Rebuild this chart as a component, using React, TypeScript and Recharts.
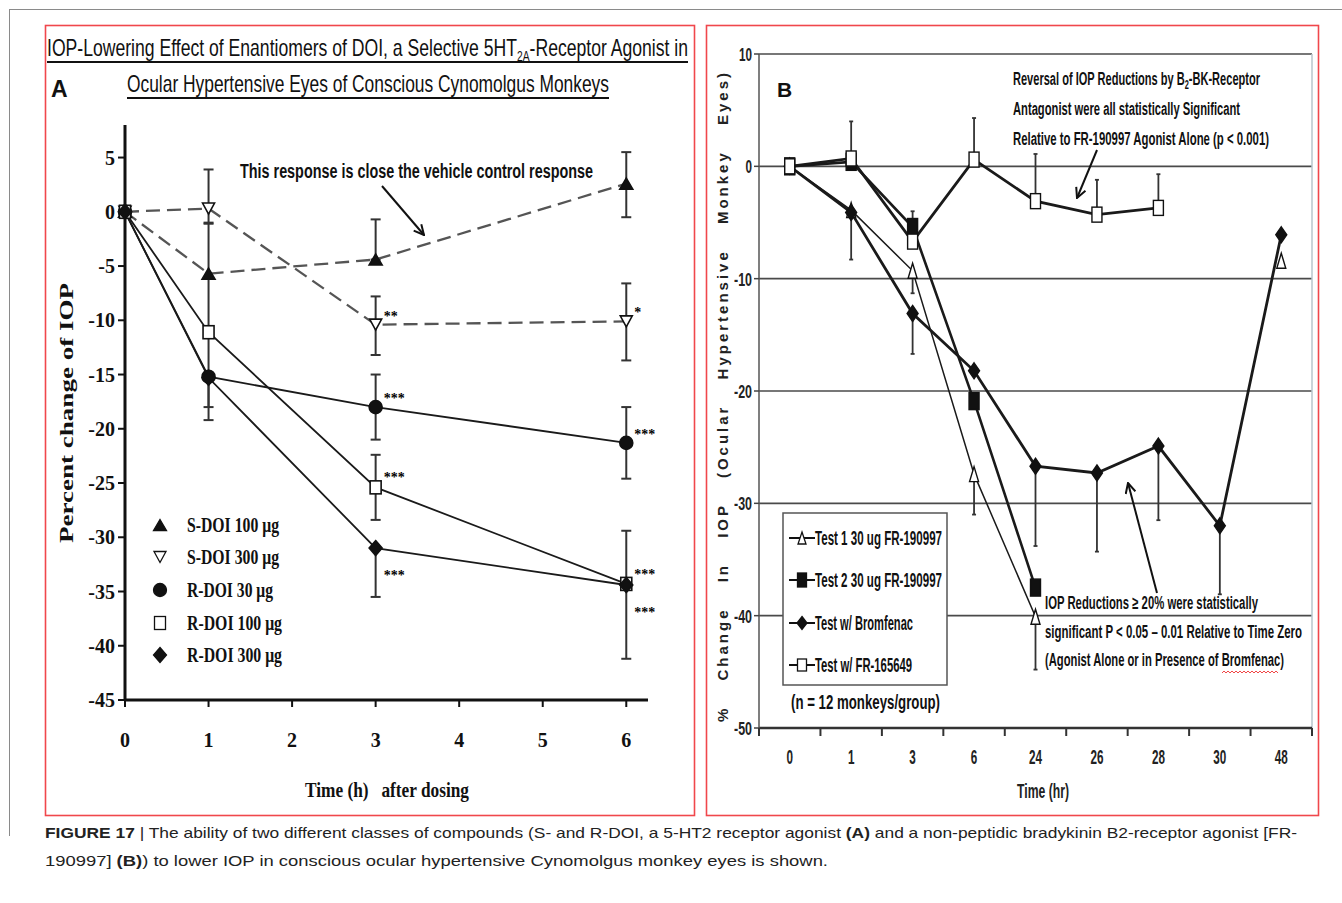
import React from 'react';
import { LineChart, Line, XAxis, YAxis, CartesianGrid, ErrorBar, LabelList, ReferenceLine } from 'recharts';

const SERIF = "'Liberation Serif', 'Times New Roman', serif";
const SANS = "'Liberation Sans', Arial, sans-serif";
const NARROW = "'Liberation Sans Narrow', 'Liberation Sans', Arial, sans-serif";

// ---------- panel A : S-/R-DOI ----------
const hoursA = [0, 1, 3, 6];
const sDoi100 = [0, -5.7, -4.4, 2.6];
const sDoi300 = [0, 0.3, -10.4, -10.1];
const rDoi30 = [0, -15.2, -18.0, -21.3];
const rDoi100 = [0, -11.1, -25.4, -34.3];
const rDoi300 = [0, -15.3, -31.0, -34.4];
// error bars as [below, above]
const sDoi100Err = [null, [5.4, 4.6], [0, 3.7], [3.1, 2.9]];
const sDoi300Err = [null, [1.3, 3.6], [2.8, 2.6], [3.6, 3.5]];
const rDoi30Err = [null, [2.8, 0], [3.0, 3.0], [3.3, 3.3]];
const rDoi100Err = [null, [8.1, 0], [3.0, 3.0], [0, 4.9]];
const rDoi300Err = [null, null, [4.5, 0], [6.8, 0]];
const sDoi100Sig = ['', '', '', ''];
const sDoi300Sig = ['', '', '**', '*'];
const rDoi30Sig = ['', '', '***', '***'];
const rDoi100Sig = ['', '', '***', '***'];
const rDoi300Sig = ['', '', '***', '***'];
const yTicksA = [-45, -40, -35, -30, -25, -20, -15, -10, -5, 0, 5];
const xTicksA = [0, 1, 2, 3, 4, 5, 6];

const seriesA = [
  { key: 'sdoi100', name: 'S-DOI 100 μg', vals: sDoi100, err: sDoi100Err, sig: sDoi100Sig, dash: true, shape: 'triUp', filled: true, sigDy: -4, lw: 92 },
  { key: 'sdoi300', name: 'S-DOI 300 μg', vals: sDoi300, err: sDoi300Err, sig: sDoi300Sig, dash: true, shape: 'triDown', filled: false, sigDy: -4, lw: 92 },
  { key: 'rdoi30', name: 'R-DOI 30 μg', vals: rDoi30, err: rDoi30Err, sig: rDoi30Sig, dash: false, shape: 'circle', filled: true, sigDy: -4, lw: 86 },
  { key: 'rdoi100', name: 'R-DOI 100 μg', vals: rDoi100, err: rDoi100Err, sig: rDoi100Sig, dash: false, shape: 'square', filled: false, sigDy: -5, lw: 95 },
  { key: 'rdoi300', name: 'R-DOI 300 μg', vals: rDoi300, err: rDoi300Err, sig: rDoi300Sig, dash: false, shape: 'diamond', filled: true, sigDy: 32, lw: 95 },
];

const rowsA = hoursA.map((t, i) => {
  const row: any = { t };
  seriesA.forEach((s) => {
    row[s.key] = s.vals[i];
    row[s.key + 'Err'] = s.err[i];
    row[s.key + 'Sig'] = s.sig[i];
  });
  return row;
});

// ---------- panel B : FR-190997 ----------
const timesB = ['0', '1', '3', '6', '24', '26', '28', '30', '48'];
const test1 = [0, -3.9, -9.3, -27.4, -40.1, null, null, null, -8.4];
const test2 = [0, 0.4, -5.4, -20.9, -37.5, null, null, null, null];
const brom = [0, -4.1, -13.1, -18.2, -26.7, -27.3, -24.9, -32.0, -6.1];
const fr165649 = [0, 0.7, -6.7, 0.6, -3.1, -4.3, -3.7, null, null];
const test1Err = [null, null, [2.0, 0], [3.6, 0], [4.7, 0], null, null, null, null];
const test2Err = [null, null, [0, 1.4], null, null, null, null, null, null];
const bromErr = [null, [4.2, 0], [3.6, 0], null, [7.1, 0], [7.0, 0], [6.6, 0], [6.1, 0], null];
const frErr = [null, [0, 3.3], null, [0, 3.7], [0, 4.2], [0, 3.1], [0, 3.0], null, null];
const yTicksB = [-50, -40, -30, -20, -10, 0, 10];

const seriesB = [
  { key: 'test1', name: 'Test 1 30 ug FR-190997', vals: test1, err: test1Err, shape: 'triUp', filled: false, lineW: 1.5, w: 9, h: 15, lw: 127 },
  { key: 'test2', name: 'Test 2 30 ug FR-190997', vals: test2, err: test2Err, shape: 'square', filled: true, lineW: 2.6, w: 10, h: 17, lw: 127 },
  { key: 'brom', name: 'Test w/ Bromfenac', vals: brom, err: bromErr, shape: 'diamond', filled: true, lineW: 2.8, w: 11, h: 16, lw: 98 },
  { key: 'fr', name: 'Test w/ FR-165649', vals: fr165649, err: frErr, shape: 'square', filled: false, lineW: 2.8, w: 10, h: 15, lw: 97 },
];

const rowsB = timesB.map((_, i) => {
  const row: any = { i };
  seriesB.forEach((s) => {
    row[s.key] = s.vals[i];
    row[s.key + 'Err'] = s.err[i];
  });
  return row;
});

const plotWB = 553;

function Marker({ shape, cx, cy, w, h, filled, sw = 1.6 }: any) {
  const fill = filled ? '#111' : '#fff';
  const a = w / 2;
  const b = h / 2;
  const common = { fill, stroke: '#111', strokeWidth: sw };
  if (shape === 'triUp') return <polygon points={`${cx},${cy - b} ${cx + a},${cy + b} ${cx - a},${cy + b}`} {...common} />;
  if (shape === 'triDown') return <polygon points={`${cx},${cy + b} ${cx + a},${cy - b} ${cx - a},${cy - b}`} {...common} />;
  if (shape === 'circle') return <ellipse cx={cx} cy={cy} rx={a} ry={b} {...common} />;
  if (shape === 'square') return <rect x={cx - a} y={cy - b} width={w} height={h} {...common} />;
  return <polygon points={`${cx},${cy - b} ${cx + a},${cy} ${cx},${cy + b} ${cx - a},${cy}`} {...common} />;
}

const sizeA: any = { triUp: [13, 11], triDown: [12, 11], circle: [13, 13], square: [11, 13], diamond: [13, 15] };

const starLabel = (dy: number) => (p: any) => {
  if (!p.value) return null;
  const x = p.x ?? p.viewBox?.x;
  const y = p.y ?? p.viewBox?.y;
  return (
    <text x={x + 8} y={y + dy} fontFamily={SERIF} fontWeight={700} fontSize={14} fill="#000" stroke="none">
      {p.value}
    </text>
  );
};

const TimeTick = (p: any) => {
  const { x, y, payload } = p;
  const lab = timesB[payload.value];
  const half = plotWB / timesB.length / 2;
  return (
    <g>
      <line x1={x - half} x2={x - half} y1={y} y2={y + 8} stroke="#333" strokeWidth={2} />
      {payload.value === timesB.length - 1 && <line x1={x + half} x2={x + half} y1={y} y2={y + 8} stroke="#333" strokeWidth={2} />}
      <text x={x} y={y + 36} textAnchor="middle" fontFamily={SANS} fontWeight={700} fontSize={21} fill="#222" textLength={lab.length * 6.5} lengthAdjust="spacingAndGlyphs">
        {lab}
      </text>
    </g>
  );
};

const PctTick = (p: any) => {
  const { x, y, payload } = p;
  const lab = String(payload.value);
  const len = lab.replace('-', '').length * 6.5 + (lab.startsWith('-') ? 5 : 0);
  return (
    <text x={x} y={y + 7} textAnchor="end" fontFamily={SANS} fontWeight={700} fontSize={19} fill="#222" textLength={len} lengthAdjust="spacingAndGlyphs">
      {lab}
    </text>
  );
};

const Arrow = ({ x1, y1, x2, y2 }: any) => (
  <line x1={x1} y1={y1} x2={x2} y2={y2} stroke="#111" strokeWidth={2} markerEnd="url(#arrowHead)" />
);

export default function App() {
  const legendRowsA = [525, 557, 590, 623, 655];
  const legendRowsB = [538, 580, 623, 665];
  return (
    <div style={{ position: 'absolute', left: 0, top: 0, width: 1342, height: 903, background: '#fff', overflow: 'hidden' }}>
      {/* Panel A */}
      <div style={{ position: 'absolute', left: 0, top: 0 }}>
        <LineChart width={700} height={820} data={rowsA} margin={{ top: 125, right: 52, bottom: 80, left: 65 }}>
          <XAxis
            type="number"
            dataKey="t"
            domain={[0, 6.26]}
            ticks={xTicksA}
            interval={0}
            height={40}
            axisLine={{ stroke: '#111', strokeWidth: 3 }}
            tickLine={{ stroke: '#111', strokeWidth: 2 }}
            tickSize={7}
            tickMargin={26}
            tick={{ fontFamily: SERIF, fontWeight: 700, fontSize: 20, fill: '#111' }}
          />
          <YAxis
            type="number"
            domain={[-45, 8]}
            ticks={yTicksA}
            interval={0}
            width={60}
            axisLine={{ stroke: '#111', strokeWidth: 3 }}
            tickLine={{ stroke: '#111', strokeWidth: 2 }}
            tickSize={7}
            tickMargin={3}
            tick={{ fontFamily: SERIF, fontWeight: 700, fontSize: 20, fill: '#111' }}
          />
          {seriesA.map((s) => (
            <Line
              key={s.key}
              dataKey={s.key}
              type="linear"
              stroke={s.dash ? '#555' : '#1a1a1a'}
              strokeWidth={s.dash ? 2.3 : 1.8}
              strokeDasharray={s.dash ? '14 7' : undefined}
              activeDot={false}
              isAnimationActive={false}
              dot={(p: any) =>
                p.cy == null ? (
                  <g key={`${s.key}-${p.index}`} />
                ) : (
                  <Marker key={`${s.key}-${p.index}`} shape={s.shape} cx={p.cx} cy={p.cy} w={sizeA[s.shape][0]} h={sizeA[s.shape][1]} filled={s.filled} />
                )
              }
            >
              <ErrorBar dataKey={s.key + 'Err'} width={5} stroke="#333" strokeWidth={2} direction="y" />
              <LabelList dataKey={s.key + 'Sig'} content={starLabel(s.sigDy)} />
            </Line>
          ))}
        </LineChart>
      </div>

      {/* Panel B */}
      <div style={{ position: 'absolute', left: 700, top: 20 }}>
        <LineChart width={630} height={790} data={rowsB} margin={{ top: 34, right: 18, bottom: 42, left: 19 }}>
          <CartesianGrid horizontal vertical={false} stroke="#4a4a4a" strokeWidth={1.6} />
          <XAxis
            type="number"
            dataKey="i"
            domain={[-0.5, 8.5]}
            ticks={[0, 1, 2, 3, 4, 5, 6, 7, 8]}
            interval={0}
            height={40}
            axisLine={{ stroke: '#333', strokeWidth: 2.5 }}
            tickLine={false}
            tickSize={0}
            tickMargin={0}
            tick={(p: any) => <TimeTick {...p} />}
          />
          <YAxis
            type="number"
            domain={[-50, 10]}
            ticks={yTicksB}
            interval={0}
            width={40}
            axisLine={{ stroke: '#555', strokeWidth: 1.5 }}
            tickLine={{ stroke: '#444', strokeWidth: 1.5 }}
            tickSize={5}
            tickMargin={2}
            tick={(p: any) => <PctTick {...p} />}
          />
          <ReferenceLine x={8.5} stroke="#b9c6cc" strokeWidth={1.5} />
          {seriesB.map((s) => (
            <Line
              key={s.key}
              dataKey={s.key}
              type="linear"
              stroke="#1a1a1a"
              strokeWidth={s.lineW}
              activeDot={false}
              isAnimationActive={false}
              dot={(p: any) =>
                p.cy == null || p.value == null ? (
                  <g key={`${s.key}-${p.index}`} />
                ) : (
                  <Marker key={`${s.key}-${p.index}`} shape={s.shape} cx={p.cx} cy={p.cy} w={s.w} h={s.h} filled={s.filled} sw={1.4} />
                )
              }
            >
              <ErrorBar dataKey={s.key + 'Err'} width={2} stroke="#333" strokeWidth={1.8} direction="y" />
            </Line>
          ))}
        </LineChart>
      </div>

      {/* annotations, legends, frames */}
      <svg width={1342} height={903} style={{ position: 'absolute', left: 0, top: 0, pointerEvents: 'none' }}>
        <defs>
          <marker id="arrowHead" viewBox="0 0 12 12" refX="11" refY="6" markerWidth="12" markerHeight="12" markerUnits="userSpaceOnUse" orient="auto">
            <path d="M1,1 L11,6 L1,11" fill="none" stroke="#111" strokeWidth={2} />
          </marker>
        </defs>
        <line x1={9} y1={9.5} x2={1342} y2={9.5} stroke="#8a8a8a" strokeWidth={1} />
        <line x1={9.5} y1={9} x2={9.5} y2={836} stroke="#8a8a8a" strokeWidth={1} />
        <rect x={45.5} y={25.5} width={649} height={790} fill="none" stroke="#f0474c" strokeWidth={1.6} />
        <rect x={706.5} y={25.5} width={612} height={790} fill="none" stroke="#f0474c" strokeWidth={1.6} />

        {/* panel A title */}
        <text x={47} y={56} fontFamily={NARROW} fontSize={24} fill="#111" textLength={641} lengthAdjust="spacingAndGlyphs">
          IOP-Lowering Effect of Enantiomers of DOI, a Selective 5HT<tspan fontSize={14} dy={5}>2A</tspan>
          <tspan dy={-5}>-Receptor Agonist in</tspan>
        </text>
        <line x1={47} x2={688} y1={62} y2={62} stroke="#111" strokeWidth={2} />
        <text x={127} y={92} fontFamily={NARROW} fontSize={24} fill="#111" textLength={482} lengthAdjust="spacingAndGlyphs">
          Ocular Hypertensive Eyes of Conscious Cynomolgus Monkeys
        </text>
        <line x1={127} x2={609} y1={98} y2={98} stroke="#111" strokeWidth={2} />
        <text x={51} y={97} fontFamily={SANS} fontWeight={700} fontSize={23} fill="#111">A</text>

        <text x={240} y={178} fontFamily={NARROW} fontWeight={700} fontSize={20} fill="#111" textLength={353} lengthAdjust="spacingAndGlyphs">
          This response is close the vehicle control response
        </text>
        <Arrow x1={382} y1={186} x2={424} y2={235} />

        <text x={73} y={413} transform="rotate(-90 73 413)" textAnchor="middle" fontFamily={SERIF} fontWeight={700} fontSize={19} fill="#111" textLength={260} lengthAdjust="spacingAndGlyphs">
          Percent change of IOP
        </text>
        <text x={305} y={797} fontFamily={SERIF} fontWeight={700} fontSize={21} fill="#111" textLength={164} lengthAdjust="spacingAndGlyphs" style={{ whiteSpace: 'pre' }}>
          {'Time (h)   after dosing'}
        </text>

        {seriesA.map((s, k) => (
          <g key={s.key}>
            <Marker shape={s.shape} cx={160} cy={legendRowsA[k]} w={sizeA[s.shape][0]} h={sizeA[s.shape][1]} filled={s.filled} sw={1.3} />
            <text x={187} y={legendRowsA[k] + 7} fontFamily={SERIF} fontWeight={700} fontSize={20} fill="#111" textLength={s.lw} lengthAdjust="spacingAndGlyphs">
              {s.name}
            </text>
          </g>
        ))}

        {/* panel B */}
        <text x={777} y={97} fontFamily={SANS} fontWeight={700} fontSize={21} fill="#111">B</text>
        <text x={728} y={396} transform="rotate(-90 728 396)" textAnchor="middle" fontFamily={SANS} fontWeight={700} fontSize={15} fill="#222" style={{ letterSpacing: '3px', wordSpacing: '18px' }}>
          % Change In IOP (Ocular Hypertensive Monkey Eyes)
        </text>
        <text x={1017} y={798} fontFamily={SANS} fontWeight={700} fontSize={20} fill="#222" textLength={52} lengthAdjust="spacingAndGlyphs">
          Time (hr)
        </text>

        <g fontFamily={NARROW} fontWeight={700} fontSize={18} fill="#111">
          <text x={1013} y={85} textLength={247} lengthAdjust="spacingAndGlyphs">
            Reversal of IOP Reductions by B<tspan fontSize={12} dy={4}>2</tspan>
            <tspan dy={-4}>-BK-Receptor</tspan>
          </text>
          <text x={1013} y={115} textLength={227} lengthAdjust="spacingAndGlyphs">
            Antagonist were all statistically Significant
          </text>
          <text x={1013} y={145} textLength={256} lengthAdjust="spacingAndGlyphs">
            Relative to FR-190997 Agonist Alone (p &lt; 0.001)
          </text>
          <text x={1045} y={609} textLength={213} lengthAdjust="spacingAndGlyphs">
            IOP Reductions ≥ 20% were statistically
          </text>
          <text x={1045} y={638} textLength={257} lengthAdjust="spacingAndGlyphs">
            significant P &lt; 0.05 – 0.01 Relative to Time Zero
          </text>
          <text x={1045} y={666} textLength={239} lengthAdjust="spacingAndGlyphs">
            (Agonist Alone or in Presence of Bromfenac)
          </text>
        </g>
        <path d="M1222,673 l2,-2 l2,2 l2,-2 l2,2 l2,-2 l2,2 l2,-2 l2,2 l2,-2 l2,2 l2,-2 l2,2 l2,-2 l2,2 l2,-2 l2,2 l2,-2 l2,2 l2,-2 l2,2 l2,-2 l2,2 l2,-2 l2,2 l2,-2 l2,2 l2,-2 l2,2" fill="none" stroke="#e33" strokeWidth={0.9} />
        <Arrow x1={1097} y1={150} x2={1077} y2={198} />
        <Arrow x1={1157} y1={593} x2={1128} y2={483} />

        <rect x={783} y={513} width={164} height={172} fill="#fff" stroke="#555" strokeWidth={1.5} />
        {seriesB.map((s, k) => (
          <g key={s.key}>
            <line x1={789} x2={815} y1={legendRowsB[k]} y2={legendRowsB[k]} stroke="#111" strokeWidth={2} />
            <Marker shape={s.shape} cx={802} cy={legendRowsB[k]} w={s.w - 1} h={s.h - 3} filled={s.filled} sw={1.3} />
            <text x={815} y={legendRowsB[k] + 7} fontFamily={NARROW} fontWeight={700} fontSize={20} fill="#111" textLength={s.lw} lengthAdjust="spacingAndGlyphs">
              {s.name}
            </text>
          </g>
        ))}
        <text x={791} y={709} fontFamily={NARROW} fontWeight={700} fontSize={20} fill="#111" textLength={149} lengthAdjust="spacingAndGlyphs">
          (n = 12 monkeys/group)
        </text>

        {/* caption */}
        <g fontFamily={SANS} fontSize={15} fill="#222">
          <text x={45} y={838} textLength={1252} lengthAdjust="spacingAndGlyphs">
            <tspan fontWeight={700}>FIGURE 17</tspan> | The ability of two different classes of compounds (S- and R-DOI, a 5-HT2 receptor agonist{' '}
            <tspan fontWeight={700}>(A)</tspan> and a non-peptidic bradykinin B2-receptor agonist [FR-
          </text>
          <text x={45} y={866} textLength={783} lengthAdjust="spacingAndGlyphs">
            190997] <tspan fontWeight={700}>(B)</tspan>) to lower IOP in conscious ocular hypertensive Cynomolgus monkey eyes is shown.
          </text>
        </g>
      </svg>
    </div>
  );
}
